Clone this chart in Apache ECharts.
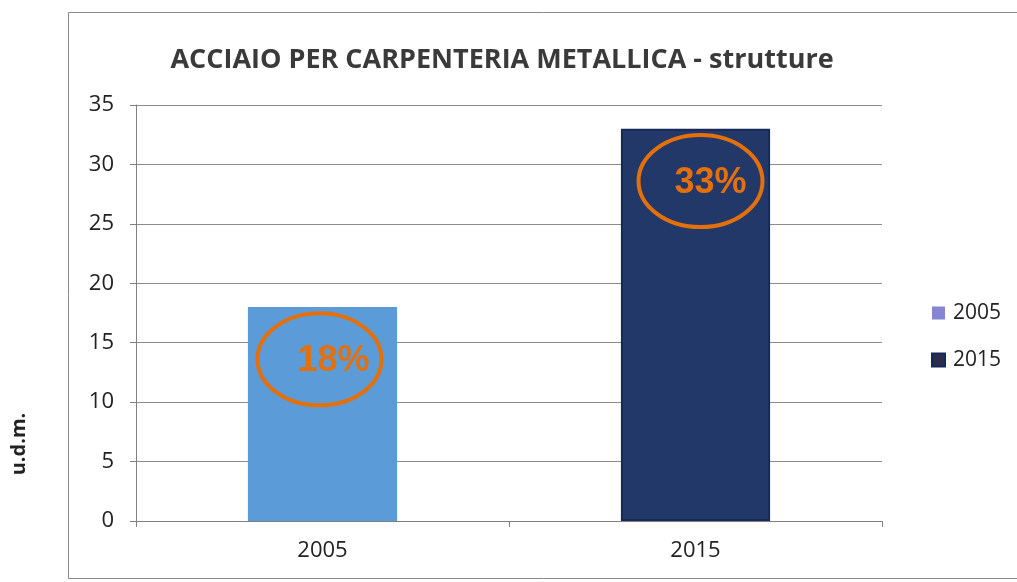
<!DOCTYPE html>
<html>
<head>
<meta charset="utf-8">
<script src="https://cdn.jsdelivr.net/npm/echarts@6/dist/echarts.min.js"></script>
<style>
  html, body { margin: 0; padding: 0; background: #fff; }
  #chart { width: 1017px; height: 582px; }
</style>
</head>
<body>
<div id="chart"></div>
<script>
const years = ['2005', '2015']
const values = [18, 33]
const percentLabels = ['18%', '33%']
const barColors = ['#5b9bd8', '#213869']
const legendColors = ['#8585d2', '#2c2c4c']

const chart = echarts.init(document.getElementById('chart'))

const barSeries = years.map((name, i) => ({
  name,
  type: 'bar',
  stack: 'all',
  barWidth: '40%',
  itemStyle: {
    color: barColors[i],
    borderColor: i === 1 ? '#17295a' : barColors[i],
    borderWidth: i === 1 ? 2 : 0
  },
  data: values.map((v, j) => (j === i ? v : '-'))
}))

chart.setOption({
  animation: false,
  title: {
    text: 'ACCIAIO PER CARPENTERIA METALLICA - strutture',
    left: 497,
    top: 42,
    textAlign: 'center',
    textStyle: {
      fontFamily: 'Open Sans',
      fontSize: 27,
      fontWeight: 'bold',
      color: '#3a3a3a'
    }
  },
  graphic: [
    {
      type: 'rect',
      shape: { x: 68.5, y: 12.5, width: 960, height: 566 },
      style: { fill: 'none', stroke: '#8a8a8a', lineWidth: 1 },
      silent: true
    },
    {
      type: 'text',
      x: 19,
      y: 444,
      rotation: Math.PI / 2,
      style: {
        text: 'u.d.m.',
        font: 'bold 20px "Open Sans"',
        fill: '#222',
        align: 'center',
        verticalAlign: 'middle'
      }
    }
  ],
  legend: {
    orient: 'vertical',
    left: 926,
    top: 297,
    itemWidth: 13,
    itemHeight: 13,
    itemGap: 25,
    icon: 'rect',
    textStyle: { fontFamily: 'Open Sans', fontSize: 21, lineHeight: 22, color: '#222', padding: [0, 0, 0, 3] },
    data: years.map((name, i) => ({ name, itemStyle: { color: legendColors[i] } }))
  },
  grid: { left: 136, right: 135, top: 105, bottom: 61 },
  xAxis: {
    type: 'category',
    data: years,
    axisLine: { lineStyle: { color: '#808080' } },
    axisTick: { show: true, length: 6, lineStyle: { color: '#808080' } },
    axisLabel: { fontFamily: 'Open Sans', fontSize: 22, color: '#222', margin: 19 }
  },
  yAxis: {
    type: 'value',
    min: 0,
    max: 35,
    interval: 5,
    axisLine: { show: true, lineStyle: { color: '#808080' } },
    axisTick: { show: true, length: 6, lineStyle: { color: '#808080' } },
    axisLabel: { fontFamily: 'Open Sans', fontSize: 22, color: '#222', margin: 22 },
    splitLine: { lineStyle: { color: '#8c8c8c', width: 1 } }
  },
  series: [
    ...barSeries,
    {
      type: 'custom',
      name: 'marks',
      z: 10,
      data: values.map((v, i) => [i, v]),
      renderItem(params, api) {
        const i = api.value(0)
        const p = api.coord([i, api.value(1) - 4.4])
        return {
          type: 'group',
          children: [
            {
              type: 'ellipse',
              shape: { cx: p[0] + (i === 0 ? -3 : 5), cy: p[1], rx: 62, ry: 46 },
              style: { fill: 'none', stroke: '#e4700c', lineWidth: 4 }
            },
            {
              type: 'text',
              x: p[0] + (i === 0 ? 11 : 15),
              y: p[1] + 2,
              style: {
                text: percentLabels[i],
                font: 'bold 36px "Liberation Sans"',
                fill: '#e4700c',
                align: 'center',
                verticalAlign: 'middle'
              }
            }
          ]
        }
      }
    }
  ]
})
</script>
</body>
</html>
